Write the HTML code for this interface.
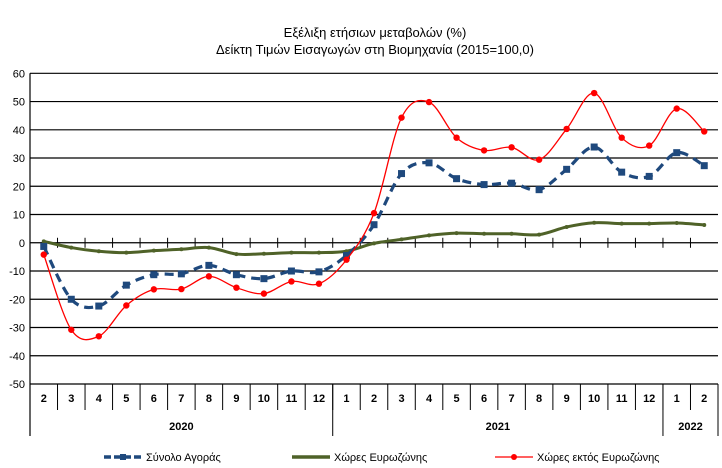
<!DOCTYPE html>
<html><head><meta charset="utf-8">
<style>
html,body{margin:0;padding:0;background:#fff;}
svg{display:block;font-family:"Liberation Sans Narrow","Liberation Sans",sans-serif;}
</style></head>
<body>
<svg id="chart" width="722" height="468" viewBox="0 0 722 468">
  <text x="375" y="37" text-anchor="middle" font-size="13">Εξέλιξη ετήσιων μεταβολών (%)</text>
  <text x="375" y="54" text-anchor="middle" font-size="13">Δείκτη Τιμών Εισαγωγών στη Βιομηχανία (2015=100,0)</text>
  <g id="grid"></g>
  <g id="xaxis"></g>
  <g id="series"></g>
  <g id="legend"></g>
</svg>
<script>
const months = ["2","3","4","5","6","7","8","9","10","11","12","1","2","3","4","5","6","7","8","9","10","11","12","1","2"];
const years = ["2020","2021","2022"];
const yearSpans = [11,12,2];
const yTicks = [60,50,40,30,20,10,0,-10,-20,-30,-40,-50];
const totalMarket = [-1.3,-20,-22.4,-15,-11.3,-11,-8,-11.3,-12.7,-10,-10.3,-4.5,6.4,24.5,28.3,22.7,20.6,21.1,18.8,26,33.9,25,23.5,31.9,27.3];
const eurozone = [0.5,-1.7,-3,-3.5,-2.8,-2.3,-1.7,-4,-3.9,-3.5,-3.5,-3,-0.2,1.2,2.6,3.4,3.2,3.2,2.9,5.6,7.1,6.8,6.8,7,6.3];
const nonEurozone = [-4.2,-30.8,-33.1,-22.2,-16.5,-16.4,-11.9,-15.9,-18,-13.7,-14.5,-6,10.5,44.3,49.8,37.2,32.7,33.8,29.4,40.3,53,37.2,34.4,47.5,39.4];

const NS="http://www.w3.org/2000/svg";
const L=30,R=718,TOP=73.3,BOT=384,YMAX=60,YMIN=-50;
const n=months.length, cw=(R-L)/n;
const X=i=>L+(i+0.5)*cw;
const Y=v=>TOP+(YMAX-v)/(YMAX-YMIN)*(BOT-TOP);
function mk(tag,attrs,parent){const e=document.createElementNS(NS,tag);for(const k in attrs)e.setAttribute(k,attrs[k]);parent.appendChild(e);return e;}
const grid=document.getElementById('grid'),xa=document.getElementById('xaxis'),ser=document.getElementById('series'),leg=document.getElementById('legend');

yTicks.forEach(v=>{
  const ln=mk('line',{x1:L,x2:R,y1:Y(v),y2:Y(v),stroke:'#000','stroke-width':1.2},grid);
  
  
  const t=mk('text',{x:25,y:Y(v)+4,'text-anchor':'end','font-size':11},grid);
  t.textContent=v;
  
  
});
const ax=mk('line',{x1:L,x2:L,y1:TOP,y2:436,stroke:'#000','stroke-width':1.2},grid);



for(let i=1;i<n;i++){
  const x=L+i*cw;
  const tk=mk('line',{x1:x,x2:x,y1:Y(0)-5,y2:Y(0)+5,stroke:'#000','stroke-width':1},xa);
  
  
  const sp=mk('line',{x1:x,x2:x,y1:BOT,y2:410,stroke:'#000','stroke-width':1},xa);
  
  
}
const rl=mk('line',{x1:R,x2:R,y1:BOT,y2:436,stroke:'#000','stroke-width':1},xa);


months.forEach((m,i)=>{
  const t=mk('text',{x:X(i),y:402,'text-anchor':'middle','font-size':11,'font-weight':'bold'},xa);
  t.textContent=m;
  
  
});
let acc=0;
years.forEach((yv,k)=>{
  const x0=L+acc*cw; acc+=yearSpans[k]; const x1=L+acc*cw;
  if(k>0){const s=mk('line',{x1:x0,x2:x0,y1:BOT,y2:436,stroke:'#000','stroke-width':1},xa);
    
    }
  const t=mk('text',{x:(x0+x1)/2,y:430,'text-anchor':'middle','font-size':11,'font-weight':'bold'},xa);
  t.textContent=yv;
  
  
});

function smooth(vals){
  const p=vals.map((v,i)=>[X(i),Y(v)]);
  let d='M'+p[0][0]+','+p[0][1];
  for(let i=0;i<p.length-1;i++){
    const p0=p[Math.max(0,i-1)],p1=p[i],p2=p[i+1],p3=p[Math.min(p.length-1,i+2)];
    const t=1/6;
    d+=' C'+(p1[0]+(p2[0]-p0[0])*t)+','+(p1[1]+(p2[1]-p0[1])*t)+' '+(p2[0]-(p3[0]-p1[0])*t)+','+(p2[1]-(p3[1]-p1[1])*t)+' '+p2[0]+','+p2[1];
  }
  return d;
}
function drawSeries(vals,name,color,width,dash,marker){
  const g=mk('g',{},ser);
  
  
  const a={d:smooth(vals),fill:'none',stroke:color,'stroke-width':width};
  if(dash)a['stroke-dasharray']=dash;
  const p=mk('path',a,g);
  
  
  vals.forEach((v,i)=>{
    let m;
    if(marker==='square')m=mk('rect',{x:X(i)-3.5,y:Y(v)-3.5,width:7,height:7,fill:color},g);
    else if(marker==='circle')m=mk('circle',{cx:X(i),cy:Y(v),r:3.2,fill:color},g);
    else m=mk('circle',{cx:X(i),cy:Y(v),r:2,fill:color},g);
    
    
  });
}
drawSeries(eurozone,'eurozone','#4f6228',3,null,'small');
drawSeries(totalMarket,'total-market','#1f497d',3.2,'9,6','square');
drawSeries(nonEurozone,'non-eurozone','#ff0000',1.3,null,'circle');

const items=[['Σύνολο Αγοράς','#1f497d','total'],['Χώρες Ευρωζώνης','#4f6228','eurozone'],['Χώρες εκτός Ευρωζώνης','#ff0000','non-eurozone']];
const lx=[104,292,495];
items.forEach((it,k)=>{
  const g=mk('g',{},leg);
  
  
  const y=457;
  if(k===0){mk('line',{x1:lx[k],x2:lx[k]+38,y1:y,y2:y,stroke:it[1],'stroke-width':3.5,'stroke-dasharray':'7,3'},g);mk('rect',{x:lx[k]+16,y:y-3,width:6,height:6,fill:it[1]},g);}
  else if(k===1){mk('line',{x1:lx[k],x2:lx[k]+38,y1:y,y2:y,stroke:it[1],'stroke-width':3.5},g);}
  else {mk('line',{x1:lx[k],x2:lx[k]+38,y1:y,y2:y,stroke:it[1],'stroke-width':1.3},g);mk('circle',{cx:lx[k]+19,cy:y,r:3,fill:it[1]},g);}
  const t=mk('text',{x:lx[k]+42,y:y+4,'font-size':11},g);
  t.textContent=it[0];
  
  
});
</script>
</body></html>
